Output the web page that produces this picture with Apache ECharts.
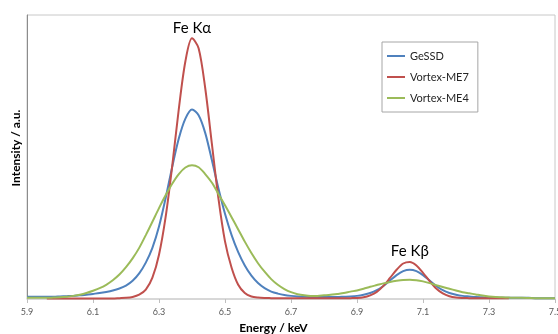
<!DOCTYPE html>
<html>
<head>
<meta charset="utf-8">
<script src="https://cdn.jsdelivr.net/npm/echarts@6/dist/echarts.min.js"></script>
<style>
  html, body { margin: 0; padding: 0; background: #fff; }
  #chart { width: 558px; height: 334px; }
</style>
</head>
<body>
<div id="chart"></div>
<script>
// energy grid (keV) and intensities (a.u., 0-100 scale)
const energy = [
    5.90, 5.92, 5.94, 5.96, 5.98, 6.00, 6.02, 6.04, 6.06, 6.08,
    6.10, 6.12, 6.14, 6.16, 6.18, 6.20, 6.22, 6.24, 6.26, 6.28,
    6.30, 6.32, 6.34, 6.36, 6.38, 6.40, 6.42, 6.44, 6.46, 6.48,
    6.50, 6.52, 6.54, 6.56, 6.58, 6.60, 6.62, 6.64, 6.66, 6.68,
    6.70, 6.72, 6.74, 6.76, 6.78, 6.80, 6.82, 6.84, 6.86, 6.88,
    6.90, 6.92, 6.94, 6.96, 6.98, 7.00, 7.02, 7.04, 7.06, 7.08,
    7.10, 7.12, 7.14, 7.16, 7.18, 7.20, 7.22, 7.24, 7.26, 7.28,
    7.30, 7.32, 7.34, 7.36, 7.38, 7.40, 7.42, 7.44, 7.46, 7.48,
    7.50,
];
const geSSD = [
    0.8, 0.8, 0.8, 0.8, 0.8, 0.9, 1.0, 1.1, 1.3, 1.5,
    1.8, 2.1, 2.5, 3.0, 3.7, 4.7, 6.4, 9.0, 12.8, 18.0,
    25.5, 35.5, 46.5, 56.5, 63.5, 66.7, 64.7, 58.5, 49.0, 39.0,
    30.0, 22.5, 16.5, 11.8, 8.2, 5.6, 3.8, 2.6, 1.9, 1.4,
    1.1, 0.9, 0.8, 0.7, 0.7, 0.7, 0.7, 0.7, 0.8, 0.9,
    1.1, 1.5, 2.1, 3.1, 4.6, 6.5, 8.4, 9.8, 10.3, 9.8,
    8.4, 6.5, 4.6, 3.1, 2.1, 1.5, 1.1, 0.9, 0.7, 0.6,
    0.5, 0.5, 0.4, 0.4, 0.4, 0.4, 0.4, 0.3, 0.3, 0.3,
    0.3,
];
const vortexME7 = [
    null, null, null, 0.2, 0.2, 0.2, 0.2, 0.2, 0.2, 0.2,
    0.2, 0.2, 0.2, 0.2, 0.3, 0.4, 0.7, 1.5, 3.3, 7.5,
    15.6, 28.8, 46.8, 66.9, 83.7, 91.8, 88.3, 74.3, 54.9, 35.5,
    20.3, 11.0, 5.0, 2.1, 0.9, 0.5, 0.35, 0.3, 0.25, 0.25,
    0.25, 0.25, 0.25, 0.25, 0.25, 0.25, 0.25, 0.25, 0.25, 0.3,
    0.35, 0.6, 1.3, 2.5, 4.6, 7.4, 10.3, 12.5, 13.05, 11.8,
    9.2, 6.3, 3.7, 1.95, 0.95, 0.5, 0.35, 0.3, 0.25, 0.25,
    0.25, 0.25, 0.25, 0.25, null, null, null, null, null, null,
    null,
];
const vortexME4 = [
    0.4, 0.4, 0.4, 0.4, 0.5, 0.6, 0.8, 1.1, 1.5, 2.1,
    2.9, 3.8, 5.0, 6.6, 8.6, 11.2, 14.3, 18.0, 22.5, 27.2,
    32.0, 36.5, 40.6, 44.0, 46.3, 47.1, 46.4, 44.0, 41.0, 37.0,
    33.0, 28.8, 24.5, 20.2, 16.2, 12.6, 9.6, 7.0, 5.0, 3.5,
    2.4, 1.7, 1.3, 1.1, 1.1, 1.3, 1.5, 1.8, 2.1, 2.6,
    3.0, 3.6, 4.3, 4.9, 5.5, 6.0, 6.4, 6.7, 6.8, 6.6,
    6.2, 5.6, 4.9, 4.2, 3.6, 3.0, 2.4, 2.0, 1.6, 1.2,
    0.9, 0.7, 0.6, 0.5, 0.4, 0.4, 0.35, 0.3, 0.3, 0.3,
    0.3,
];
const seriesNames = ['GeSSD', 'Vortex-ME7', 'Vortex-ME4'];
const seriesColors = ['#4f81bd', '#c0504d', '#9bbb59'];
const xTicks = [5.9, 6.1, 6.3, 6.5, 6.7, 6.9, 7.1, 7.3, 7.5];
// peak names, placed above the highest Vortex-ME7 point in each window
const peakLabels = [
    { text: 'Fe Kα', from: 6.2, to: 6.6 },
    { text: 'Fe Kβ', from: 6.9, to: 7.3 },
];

const FONT = 'Lato, "Open Sans", sans-serif';

const toPairs = values => energy.map((e, i) => [e, values[i]]);

const peakPoints = peakLabels.map(p => {
    let best = -1;
    energy.forEach((e, i) => {
        if (e < p.from || e > p.to || vortexME7[i] == null) return;
        if (best < 0 || vortexME7[i] > vortexME7[best]) best = i;
    });
    return {
        coord: [energy[best], vortexME7[best]],
        label: { formatter: p.text },
    };
});

const chart = echarts.init(document.getElementById('chart'), null, { renderer: 'canvas' });

chart.setOption({
    animation: false,
    textStyle: { fontFamily: FONT },
    grid: {
        left: 27,
        right: 3,
        top: 15,
        bottom: 35,
        outerBoundsMode: 'none',
        show: true,
        borderColor: '#c8c8c8',
        borderWidth: 1,
    },
    legend: {
        data: seriesNames,
        orient: 'vertical',
        left: 382,
        top: 42,
        padding: [7, 9, 7, 5],
        borderColor: '#a6a6a6',
        borderWidth: 1,
        icon: 'rect',
        itemWidth: 18,
        itemHeight: 2,
        itemGap: 7,
        textStyle: { fontFamily: FONT, fontSize: 11, color: '#262626', lineHeight: 14 },
    },
    xAxis: {
        type: 'value',
        min: 5.9,
        max: 7.5,
        name: 'Energy / keV',
        nameLocation: 'middle',
        nameGap: 23,
        nameTextStyle: {
            fontFamily: FONT,
            fontSize: 12,
            fontWeight: 'bold',
            color: '#000',
            padding: [0, 35, 0, 0],
        },
        axisLine: { lineStyle: { color: '#d4d4d4', width: 1.5 } },
        axisTick: {
            show: true,
            customValues: xTicks,
            length: 4,
            lineStyle: { color: '#bfbfbf' },
        },
        axisLabel: {
            customValues: xTicks,
            formatter: v => v.toFixed(1),
            fontFamily: FONT,
            fontSize: 9,
            color: '#595959',
            margin: 9,
            alignMinLabel: 'center',
            alignMaxLabel: 'center',
        },
        splitLine: { show: false },
    },
    yAxis: {
        type: 'value',
        min: 0,
        max: 100,
        name: 'Intensity / a.u.',
        nameLocation: 'middle',
        nameGap: 5,
        nameTextStyle: {
            fontFamily: FONT,
            fontSize: 12,
            fontWeight: 'bold',
            color: '#000',
            padding: [0, 0, 0, 18],
        },
        axisLine: { show: true, lineStyle: { color: '#8c8c8c' } },
        axisTick: { show: false },
        axisLabel: { show: false },
        splitLine: { show: false },
    },
    series: [geSSD, vortexME7, vortexME4].map((values, idx) => ({
        name: seriesNames[idx],
        type: 'line',
        data: toPairs(values),
        symbol: 'none',
        smooth: 0.3,
        connectNulls: false,
        color: seriesColors[idx],
        lineStyle: { color: seriesColors[idx], width: 2 },
        markPoint: idx === 1 ? {
            symbol: 'circle',
            symbolSize: 0,
            silent: true,
            label: {
                show: true,
                position: 'top',
                distance: 3,
                fontFamily: FONT,
                fontSize: 15,
                color: '#000',
            },
            data: peakPoints,
        } : undefined,
    })),
});
</script>
</body>
</html>
